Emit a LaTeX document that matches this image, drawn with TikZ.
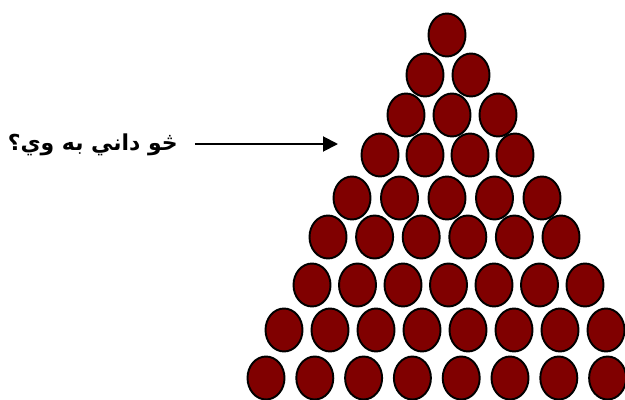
\documentclass[tikz,border=0pt]{standalone}
\usepackage{fontspec}
\usepackage{xcolor}
\usepackage{tikz}
\usetikzlibrary{arrows.meta, positioning, shapes.geometric}
\TeXXeTstate=1
\newfontfamily\arabicfont[Script=Arabic]{DejaVu Sans}
\definecolor{beadred}{HTML}{800000}

\begin{document}
\begin{tikzpicture}[
    x=0.02cm, y=-0.02cm,
    bead/.style={draw, ellipse, fill=beadred, line width=1.1pt, minimum width=0.74cm, minimum height=0.86cm, inner sep=0pt},
    question/.style={font=\arabicfont\bfseries\fontsize{12.5}{15}\selectfont, inner sep=0pt, anchor=east},
    arr/.style={-{Triangle[length=0.3cm, width=0.3cm]}, line width=1.1pt}]
  \clip (0,0) rectangle (625,399);
  % rows of beads: row / y / first x / step / count
  \foreach \row/\y/\x/\dx/\n in {1/35/447/46/1, 2/75/425/46/2, 3/115/406/46/3,
      4/155/380/45/4, 5/198/352/47.5/5, 6/237/328/46.6/6, 7/285/312/45.5/7,
      8/330/284/46/8, 9/378/266/48.8/8}{
    \foreach \i in {1,...,\n}
      \node[bead] (b\row-\i) at ({\x+(\i-1)*\dx},\y) {};
  }
  \node[question] (q) at (178,145) {\beginR څو داني به وي؟\endR};
  \coordinate (tip) at (338,144);
  \draw[arr, shorten <=0.34cm] (q.east |- tip) -- (tip);
\end{tikzpicture}
\end{document}
